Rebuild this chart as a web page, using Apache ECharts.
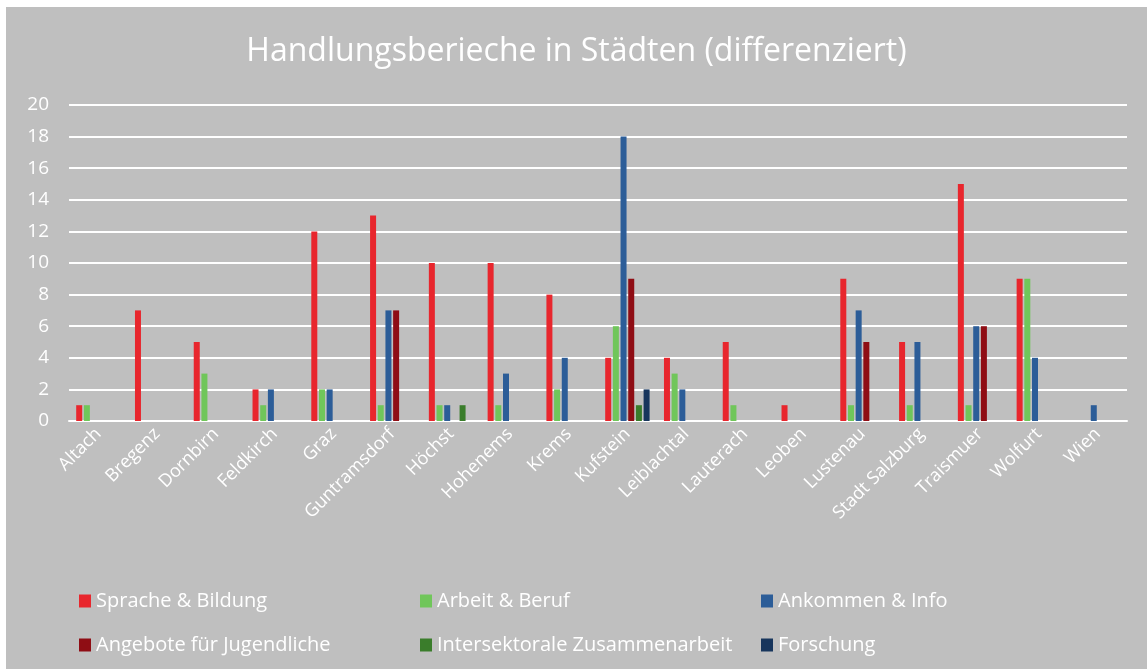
<!DOCTYPE html>
<html>
<head>
<meta charset="utf-8">
<script src="https://cdn.jsdelivr.net/npm/echarts@6/dist/echarts.min.js"></script>
<style>
  html, body { margin: 0; padding: 0; background: #ffffff; }
  #chart { position: absolute; left: 6px; top: 7px; width: 1141px; height: 662px; background: #bfbfbf; }
</style>
</head>
<body>
<div id="chart"></div>
<script>
const categories = ['Altach','Bregenz','Dornbirn','Feldkirch','Graz','Guntramsdorf','Höchst','Hohenems','Krems','Kufstein','Leiblachtal','Lauterach','Leoben','Lustenau','Stadt Salzburg','Traismuer','Wolfurt','Wien'];
const seriesNames = ['Sprache & Bildung','Arbeit & Beruf','Ankommen & Info','Angebote für Jugendliche','Intersektorale Zusammenarbeit','Forschung'];
const sprache      = [1,7,5,2,12,13,10,10,8,4,4,5,1,9,5,15,9,0];
const arbeit       = [1,0,3,1,2,1,1,1,2,6,3,1,0,1,1,1,9,0];
const ankommen     = [0,0,0,2,2,7,1,3,4,18,2,0,0,7,5,6,4,1];
const jugendliche  = [0,0,0,0,0,7,0,0,0,9,0,0,0,5,0,6,0,0];
const intersektor  = [0,0,0,0,0,0,1,0,0,1,0,0,0,0,0,0,0,0];
const forschung    = [0,0,0,0,0,0,0,0,0,2,0,0,0,0,0,0,0,0];
const yTicks = [0,2,4,6,8,10,12,14,16,18,20];
const colors = ['#e8262d','#70c65a','#2c5d98','#8f0d14','#3a7d2b','#17355c'];

const allData = [sprache, arbeit, ankommen, jugendliche, intersektor, forschung];
const font = 'Open Sans, Noto Sans, sans-serif';

const chart = echarts.init(document.getElementById('chart'));
chart.setOption({
  animation: false,
  backgroundColor: '#bfbfbf',
  color: colors,
  title: {
    text: 'Handlungsberieche in Städten (differenziert)',
    left: 'center',
    top: 24,
    textStyle: { color: '#ffffff', fontSize: 32, fontWeight: 'normal', fontFamily: font }
  },
  legend: {
    left: 68,
    top: 567,
    width: 1040,
    itemWidth: 12,
    itemHeight: 13,
    itemGap: 0,
    icon: 'rect',
    textStyle: { color: '#ffffff', fontSize: 20, fontFamily: font, width: 324, height: 44, lineHeight: 44, padding: [0,0,0,0] },
    data: seriesNames
  },
  grid: { left: 63, right: 20, top: 98, bottom: 248, containLabel: false },
  xAxis: {
    type: 'category',
    data: categories,
    axisLine: { show: true, lineStyle: { color: '#ffffff', width: 2 } },
    axisTick: { show: false },
    axisLabel: { color: '#ffffff', fontSize: 18, fontFamily: font, rotate: 45, interval: 0, margin: 10 }
  },
  yAxis: {
    type: 'value',
    min: yTicks[0],
    max: yTicks[yTicks.length - 1],
    interval: 2,
    axisLine: { show: false },
    axisTick: { show: false },
    axisLabel: { color: '#ffffff', fontSize: 19, fontFamily: font, margin: 20 },
    splitLine: { lineStyle: { color: '#ffffff', width: 2 } }
  },
  series: seriesNames.map((name, i) => ({
    name: name,
    type: 'bar',
    barWidth: 6,
    barGap: '28%',
    data: allData[i].map(v => v === 0 ? null : v),
    itemStyle: { color: colors[i] }
  }))
});
</script>
</body>
</html>
